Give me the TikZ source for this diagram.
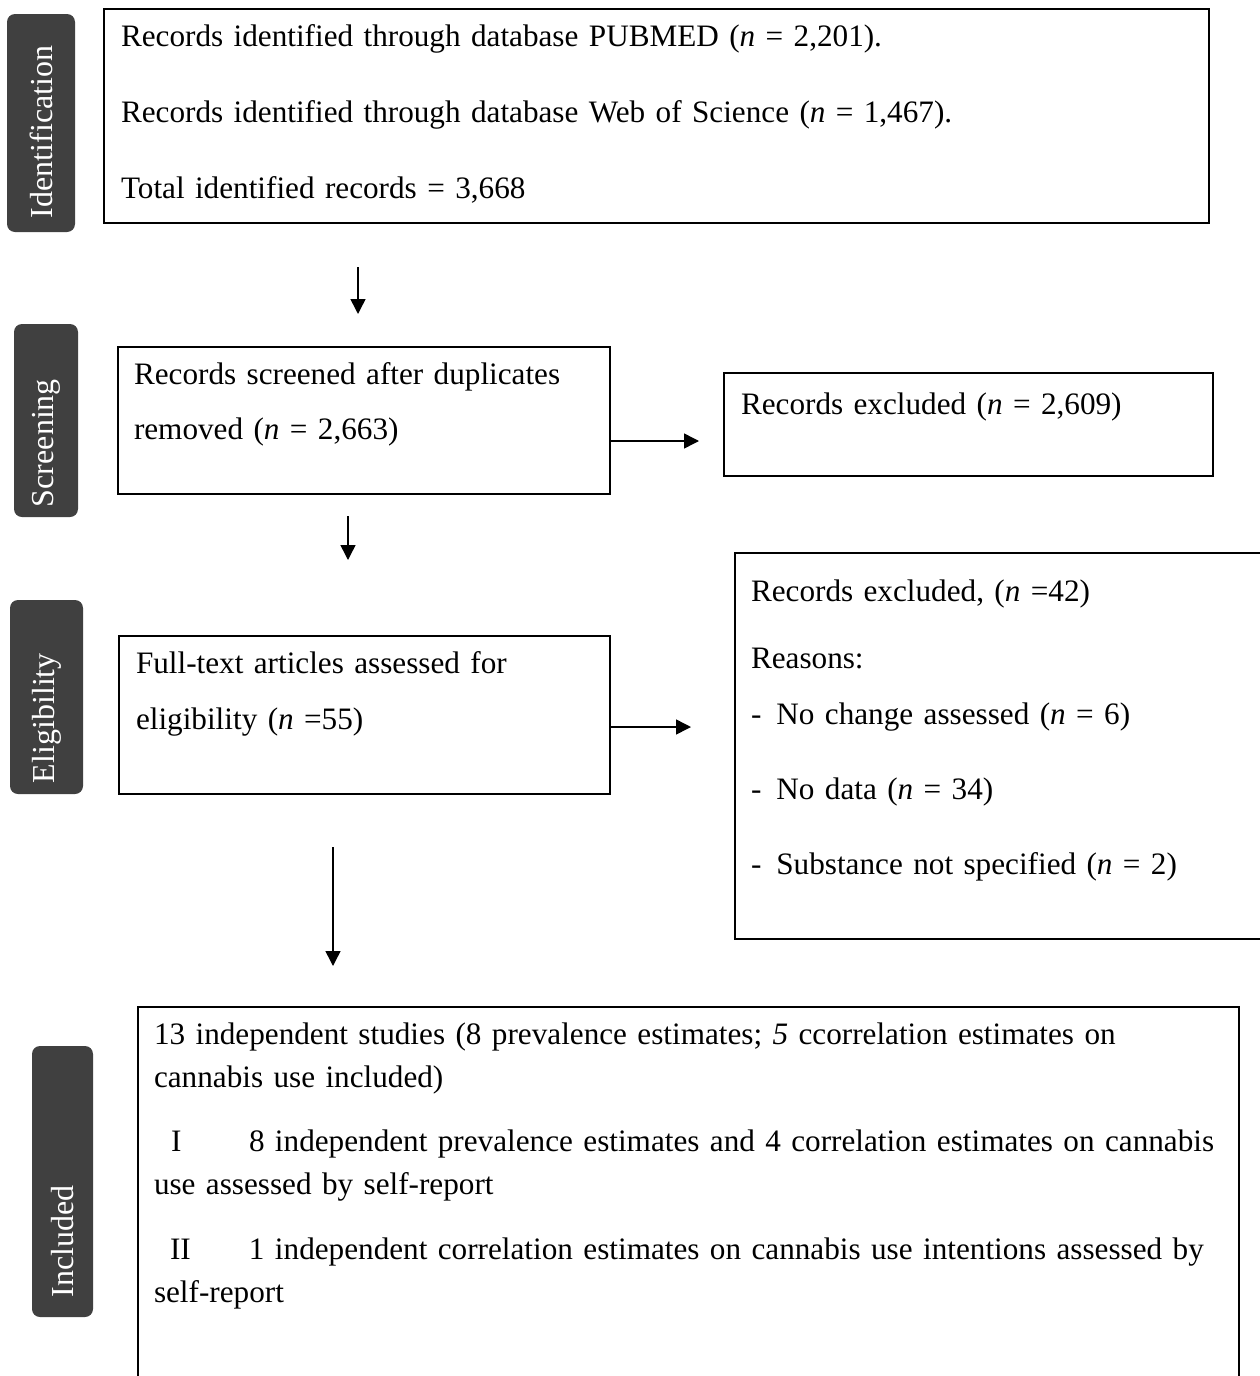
\documentclass[tikz,border=0pt]{standalone}
\usepackage{fontspec}
\setmainfont{Liberation Serif}
\usepackage{xcolor}
\usetikzlibrary{arrows.meta,positioning}
\definecolor{phasegray}{RGB}{64,64,64}

\begin{document}
\begin{tikzpicture}[
    x=0.5pt, y=-0.5pt,
    box/.style={rectangle, draw=black, line width=1pt, anchor=north west, align=left, inner ysep=0pt, font=\fontsize{15.6}{21.5}\selectfont},
    phase/.style={rectangle, rounded corners=4pt, fill=phasegray, text=white, rotate=90, align=left, inner ysep=0pt, font=\fontsize{16}{16}\selectfont},
    arrow/.style={line width=0.75pt, -{Triangle[length=7.5pt, width=7.5pt]}}
]
    \useasboundingbox (0,0) rectangle (1259,1376);

    % phase labels
    \node[phase, minimum width=109pt, minimum height=34pt, inner xsep=7pt, text width=95pt] (pident) at (41,123) {Identification};
    \node[phase, minimum width=96.5pt, minimum height=32pt, inner xsep=5pt, text width=86.5pt] (pscreen) at (46,420.5) {Screening};
    \node[phase, minimum width=97pt, minimum height=36.5pt, inner xsep=5.5pt, text width=86pt] (pelig) at (46.5,697) {Eligibility};
    \node[phase, minimum width=135.5pt, minimum height=30.5pt, inner xsep=10pt, text width=115.5pt] (pincl) at (62.5,1181.5) {Included};

    % boxes
    \node[box, inner xsep=8.5pt, text width=535.5pt, text height=18.85pt, text depth=88.15pt] (ident) at (103,8)
        {Records identified through database PUBMED (\textit{n} = 2,201).\\[16.5pt]
         Records identified through database Web of Science (\textit{n} = 1,467).\\[16.5pt]
         Total identified records = 3,668};
    \node[box, inner xsep=8pt, text width=230pt, text height=18.5pt, text depth=55pt] (screen) at (117,346)
        {Records screened after duplicates\\[6pt]
         removed (\textit{n} = 2,663)};
    \node[box, inner xsep=8.5pt, text width=227.5pt, text height=20.5pt, text depth=31pt] (excla) at (723,372)
        {Records excluded (\textit{n} = 2,609)};
    \node[box, inner xsep=8.5pt, text width=228.5pt, text height=18.5pt, text depth=60.5pt] (full) at (118,635)
        {Full-text articles assessed for\\[6.5pt]
         eligibility (\textit{n} =55)};
    \node[box, inner xsep=8pt, text width=249.5pt, text height=24pt, text depth=169pt] (exclb) at (734,552)
        {Records excluded, (\textit{n} =42)\\[12pt]
         Reasons:\\[6.5pt]
         -\hspace{7.5pt}No change assessed (\textit{n} = 6)\\[16pt]
         -\hspace{7.5pt}No data (\textit{n} = 34)\\[16pt]
         -\hspace{7.5pt}Substance not specified (\textit{n} = 2)};
    \node[box, inner xsep=8pt, text width=534.5pt, text height=18.5pt, text depth=173.5pt] (incl) at (137,1006)
        {13 independent studies (8 prevalence estimates; \textit{5} ccorrelation estimates on\\
         cannabis use included)\\[10.5pt]
         \mbox{\makebox[47.5pt][l]{\hspace*{8.5pt}I}8 independent prevalence estimates and 4 correlation estimates on cannabis}\\
         use assessed by self-report\\[11pt]
         \mbox{\makebox[47.5pt][l]{\hspace*{8pt}II}1 independent correlation estimates on cannabis use intentions assessed by}\\
         self-report};

    % connectors
    \coordinate (v1) at (358,267);
    \coordinate (v2) at (348,516);
    \coordinate (v3) at (333,847);
    \coordinate (h1) at (609,441);
    \coordinate (h2) at (609,727);
    \draw[arrow, shorten >=16pt] (v1) -- (v1 |- screen.north);
    \draw[arrow, shorten >=37.5pt] (v2) -- (v2 |- full.north);
    \draw[arrow, shorten >=20pt] (v3) -- (v3 |- incl.north);
    \draw[arrow, shorten >=12pt] (h1) -- (h1 -| excla.west);
    \draw[arrow, shorten >=21.5pt] (h2) -- (h2 -| exclb.west);
\end{tikzpicture}
\end{document}
